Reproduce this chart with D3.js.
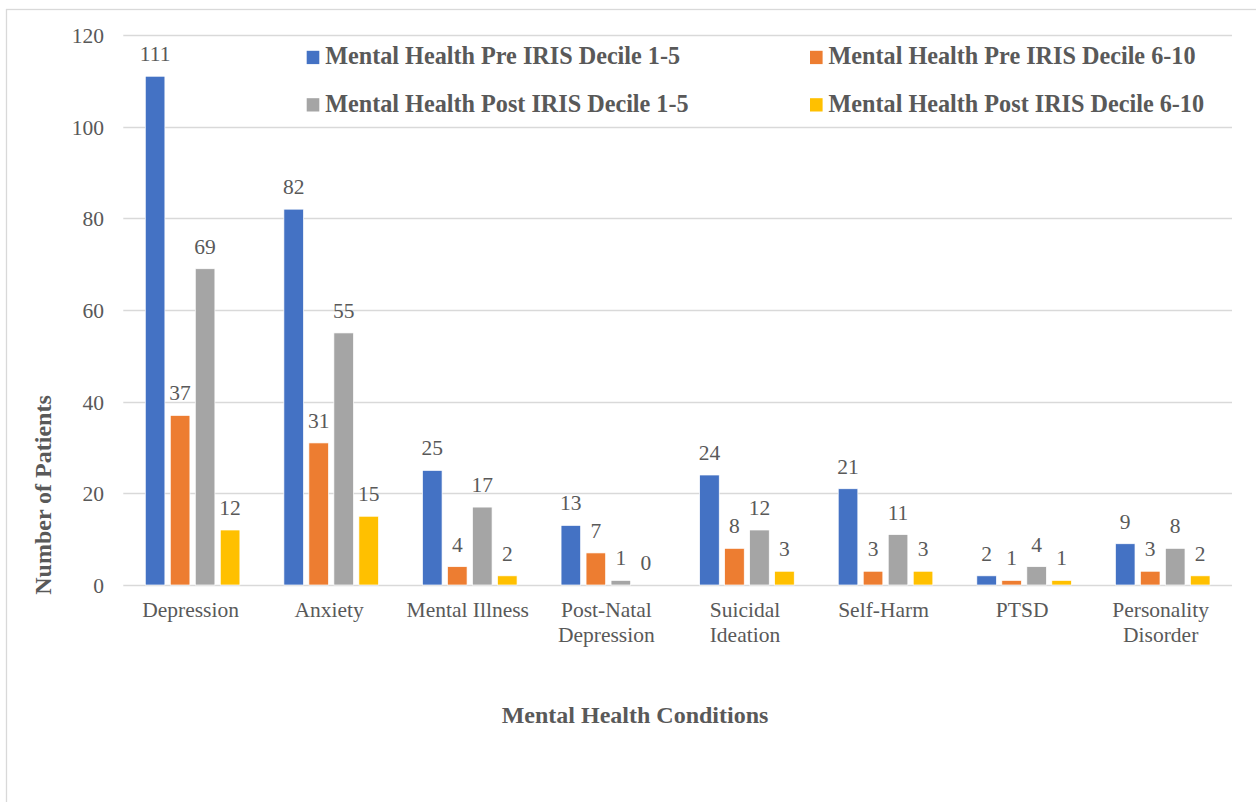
<!DOCTYPE html>
<html>
<head>
<meta charset="utf-8">
<script src="https://cdn.jsdelivr.net/npm/d3@7"></script>
<style>
  html, body { margin: 0; padding: 0; background: #fff; }
  svg { display: block; }
  text { font-family: "Liberation Serif", "Times New Roman", serif; fill: #595959; }
</style>
</head>
<body>
<script>
const categories = [
  ["Depression"],
  ["Anxiety"],
  ["Mental Illness"],
  ["Post-Natal", "Depression"],
  ["Suicidal", "Ideation"],
  ["Self-Harm"],
  ["PTSD"],
  ["Personality", "Disorder"]
];
const seriesNames = [
  "Mental Health Pre IRIS Decile 1-5",
  "Mental Health Pre IRIS Decile 6-10",
  "Mental Health Post IRIS Decile 1-5",
  "Mental Health Post IRIS Decile 6-10"
];
const preDecile1to5  = [111, 82, 25, 13, 24, 21, 2, 9];
const preDecile6to10 = [37, 31, 4, 7, 8, 3, 1, 3];
const postDecile1to5 = [69, 55, 17, 1, 12, 11, 4, 8];
const postDecile6to10 = [12, 15, 2, 0, 3, 3, 1, 2];
const yTicks = [0, 20, 40, 60, 80, 100, 120];
const colors = ["#4472C4", "#ED7D31", "#A5A5A5", "#FFC000"];

const seriesValues = [preDecile1to5, preDecile6to10, postDecile1to5, postDecile6to10];

const W = 1256, H = 802;
const plot = { left: 123.3, right: 1232, top: 35, bottom: 585 };

const svg = d3.select("body").append("svg").attr("width", W).attr("height", H);

// outer chart border
svg.append("rect")
  .attr("x", 6.5).attr("y", 9.5)
  .attr("width", W + 20).attr("height", H + 20)
  .attr("fill", "none").attr("stroke", "#D9D9D9").attr("stroke-width", 1.3);

const catIdx = d3.range(categories.length);
const x = d3.scaleBand().domain(catIdx).range([plot.left, plot.right]).paddingInner(0).paddingOuter(0);
const y = d3.scaleLinear().domain([0, 120]).range([plot.bottom, plot.top]);
const step = 25, barW = 19.6;
const groupW = step * 3 + barW;

// gridlines
svg.append("g").selectAll("line").data(yTicks).join("line")
  .attr("x1", plot.left).attr("x2", plot.right)
  .attr("y1", d => Math.round(y(d)) + 0.5).attr("y2", d => Math.round(y(d)) + 0.5)
  .attr("stroke", "#D9D9D9").attr("stroke-width", 1.3);

// y tick labels
svg.append("g").selectAll("text").data(yTicks).join("text")
  .attr("x", 104).attr("y", d => y(d) + 8)
  .attr("text-anchor", "end").attr("font-size", 21.5).text(d => d);

// bars
const bars = [];
seriesValues.forEach((vals, s) => {
  vals.forEach((v, c) => {
    const bx = x(c) + (x.bandwidth() - groupW) / 2 + s * step;
    bars.push({ s, c, v, bx });
  });
});

svg.append("g").selectAll("rect").data(bars).join("rect")
  .attr("x", d => d.bx).attr("width", barW)
  .attr("y", d => y(d.v)).attr("height", d => y(0) - y(d.v))
  .attr("fill", d => colors[d.s])
  .attr("stroke", "#fff").attr("stroke-width", 0.7);

// value labels
svg.append("g").selectAll("text").data(bars).join("text")
  .attr("x", d => d.bx + barW / 2).attr("y", d => y(d.v) - 15)
  .attr("text-anchor", "middle").attr("font-size", 21.5).text(d => d.v);

// category labels
const catG = svg.append("g");
categories.forEach((lines, c) => {
  const cx = x(c) + x.bandwidth() / 2 - 2;
  const t = catG.append("text")
    .attr("x", cx).attr("y", 617)
    .attr("text-anchor", "middle").attr("font-size", 21.5);
  lines.forEach((ln, i) => {
    t.append("tspan").attr("x", cx).attr("dy", i === 0 ? 0 : 25).text(ln);
  });
});

// axis titles
svg.append("text").attr("x", 635).attr("y", 723)
  .attr("text-anchor", "middle").attr("font-size", 24).attr("font-weight", "bold")
  .text("Mental Health Conditions");
svg.append("text")
  .attr("transform", "translate(51,495) rotate(-90)")
  .attr("text-anchor", "middle").attr("font-size", 24).attr("font-weight", "bold")
  .text("Number of Patients");

// legend
const legendPos = [
  { sx: 306.7, ty: 64.3 },
  { sx: 810, ty: 64.3 },
  { sx: 306.7, ty: 111.7 },
  { sx: 810, ty: 111.7 }
];
const lg = svg.append("g").selectAll("g").data(seriesNames).join("g");
lg.append("rect")
  .attr("x", (d, i) => legendPos[i].sx).attr("y", (d, i) => legendPos[i].ty - 13.5)
  .attr("width", 12.6).attr("height", 13.3)
  .attr("fill", (d, i) => colors[i]);
lg.append("text")
  .attr("x", (d, i) => legendPos[i].sx + 18.5).attr("y", (d, i) => legendPos[i].ty)
  .attr("font-size", 24.2).attr("font-weight", "bold").text(d => d);
</script>
</body>
</html>
